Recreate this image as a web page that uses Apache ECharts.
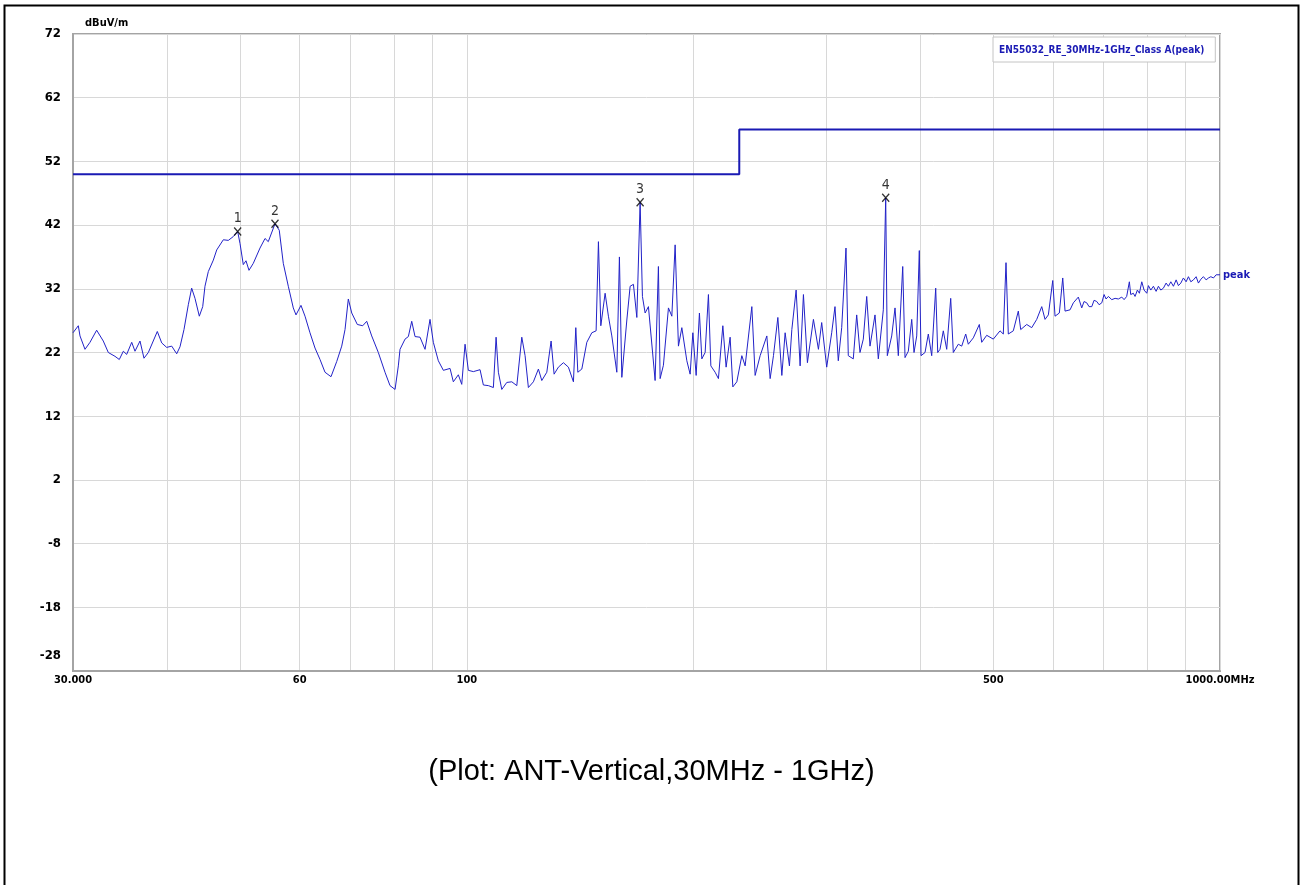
<!DOCTYPE html>
<html>
<head>
<meta charset="utf-8">
<script src="https://cdn.jsdelivr.net/npm/echarts@6/dist/echarts.min.js"></script>
<style>
  html, body { margin: 0; padding: 0; background: #fff; }
  #chart { width: 1303px; height: 885px; }
</style>
</head>
<body>
<div id="chart"></div>
<script>
// ---- Data ----
const freqMHz = [
  30.00, 30.49, 30.65, 31.12, 31.60, 32.25, 32.91, 33.42, 34.11, 34.56, 34.99, 35.35, 35.90, 36.26, 36.82, 37.27, 37.77,
  38.82, 39.35, 39.95, 40.57, 41.19, 41.61, 42.12, 42.68, 43.12, 43.56, 44.14, 44.60, 44.91, 45.37, 46.07, 46.55, 47.50,
  48.23, 48.97, 49.63, 49.99, 50.49, 50.91, 51.38, 52.06, 53.14, 53.96, 54.50, 55.63,
  56.36, 57.06, 57.94, 58.83, 59.32, 60.23, 60.98, 61.91, 62.87, 63.84, 64.82, 66.02, 67.19, 68.22, 68.91, 69.61, 70.34,
  71.55, 72.74, 73.64, 74.77, 76.30, 77.87, 79.07, 80.30, 81.11, 81.53, 82.79, 83.63, 84.50, 85.36, 86.67, 88.01, 89.36,
  90.27, 91.66, 93.08, 95.00, 95.96, 97.44, 98.46, 99.46, 100.47, 102.02, 104.13,
  105.19, 106.81, 108.46, 109.36, 110.13, 111.28, 112.99, 114.74, 116.51, 118.30, 119.50, 120.71, 122.57, 124.46, 125.76,
  127.70, 129.39, 130.58, 132.31, 134.35, 136.42, 138.53, 139.54, 140.40, 142.13, 144.32, 146.54, 148.48, 149.53, 150.63,
  152.62, 154.17, 155.78, 158.18, 159.44, 160.62, 163.10, 164.75, 166.42, 168.16, 169.86, 171.06, 172.48, 174.23, 177.83,
  179.63, 180.57, 182.40, 185.22, 187.15, 189.05, 190.97, 192.96, 195.94, 197.93, 199.57, 201.59, 203.63,
  205.13, 207.21, 209.31, 210.86, 213.64, 215.81, 218.73, 220.94, 223.66, 225.52, 228.29, 231.81, 234.16, 239.01, 241.43,
  245.16, 250.23, 252.77, 255.34, 258.79, 261.97, 264.62, 268.12, 270.10, 273.67, 277.03, 279.84, 283.28, 288.53, 292.98,
  295.92, 300.48, 305.10, 308.19, 311.31, 314.57, 318.73, 320.98, 325.92, 329.33, 332.67, 336.05, 339.57, 343.01, 348.30,
  351.84, 357.27, 359.89, 361.66, 366.55, 370.27, 374.03, 379.10, 381.77,
  385.64, 389.67, 392.42, 395.68, 398.83, 400.91, 405.84, 409.95, 414.23, 416.26, 419.33, 421.89, 424.86, 429.18, 433.67,
  438.99, 442.50, 449.34, 454.03, 459.60, 463.27, 470.41, 479.12, 482.65, 490.08, 500.08, 510.41, 515.58, 519.85, 523.52,
  531.59, 539.79, 543.76, 553.83, 562.37, 571.05, 579.86, 585.74, 591.69, 599.70, 603.93, 611.90, 618.32, 622.68, 632.28,
  638.70, 648.5, 655.3, 659.9, 665.4, 670.1, 675.7, 680.5, 686.1, 691.0, 696.7, 701.6, 705.9, 710.9, 718.3,
  725.6, 733.0, 740.6, 745.9, 751.8, 758.0, 761.1, 767.3, 771.3, 776.8, 781.6, 787.3, 792.9, 799.5, 803.4,
  809.3, 815.8, 822.6, 828.4, 834.5, 841.1, 848.1, 854.1, 860.4, 867.3, 874.5, 880.6, 887.1, 894.2, 901.6,
  908.0, 914.7, 922.0, 929.6, 936.2, 943.1, 950.6, 958.5, 965.3, 972.4, 980.2, 988.3, 1000.0
];
const levelDb = [
  25.1, 26.2, 24.6, 22.5, 23.6, 25.5, 23.8, 22.0, 21.4, 20.9, 22.2, 21.7, 23.6, 22.2, 23.8, 21.1, 22.0,
  25.3, 23.5, 22.8, 23.0, 21.8, 22.9, 25.6, 29.5, 32.1, 30.5, 27.7, 29.2, 32.4, 34.7, 36.5, 38.1, 39.7,
  39.6, 40.2, 41.0, 39.1, 35.8, 36.4, 34.9, 36.0, 38.4, 39.9, 39.4, 42.2,
  41.2, 36.0, 32.4, 29.0, 27.9, 29.4, 27.7, 25.1, 22.7, 20.9, 18.9, 18.2, 20.6, 23.0, 25.6, 30.4, 28.2,
  26.4, 26.2, 26.9, 24.6, 22.0, 18.9, 16.8, 16.2, 19.9, 22.5, 24.1, 24.5, 26.9, 24.5, 24.4, 22.5, 27.2,
  23.6, 20.7, 19.2, 19.5, 17.4, 18.5, 17.0, 23.3, 19.2, 19.0, 19.3,
  16.9, 16.8, 16.5, 24.4, 18.9, 16.2, 17.3, 17.4, 16.8, 24.4, 21.5, 16.5, 17.4, 19.4, 17.6,
  18.9, 23.8, 18.6, 19.7, 20.4, 19.7, 17.4, 25.9, 18.9, 19.4, 23.6, 25.1, 25.4, 39.4, 26.2,
  31.3, 27.7, 24.6, 18.9, 37.0, 18.1, 27.1, 32.4, 32.7, 27.5, 45.6, 30.8, 28.2, 29.2, 17.6,
  35.5, 17.9, 20.0, 29.0, 27.7, 38.9, 23.0, 25.9, 20.7, 18.6, 25.1, 18.4, 28.2,
  21.0, 22.0, 31.1, 19.9, 18.9, 17.9, 26.2, 19.7, 24.4, 16.6, 17.4, 21.5, 19.9, 29.2, 18.4,
  21.5, 24.6, 17.9, 21.5, 27.5, 18.4, 25.1, 19.9, 25.6, 31.8, 19.9, 31.1, 20.4, 27.2, 22.5,
  26.7, 19.7, 25.1, 29.2, 20.7, 25.9, 38.4, 21.5, 21.0, 27.9, 22.0, 24.1, 30.8, 23.0, 27.9,
  21.0, 28.7, 46.3, 21.5, 24.6, 29.0, 21.5, 35.5, 21.2,
  22.2, 27.2, 22.0, 24.6, 38.0, 21.5, 22.0, 24.9, 21.5, 21.5, 32.1, 22.0, 22.5, 25.4, 22.5,
  30.5, 22.0, 23.3, 23.0, 24.9, 23.3, 24.3, 26.4, 23.6, 24.7, 24.1, 25.4, 24.9, 36.1, 24.9,
  25.4, 28.5, 25.6, 26.4, 25.9, 27.2, 29.2, 27.2, 27.9, 33.3, 27.7, 28.2, 33.7, 28.5, 28.7,
  29.8, 30.7, 29.0, 30.0, 29.8, 29.2, 29.2, 30.2, 30.0, 29.5, 29.8, 31.1, 30.4, 30.8, 30.3,
  30.5, 30.4, 30.7, 30.3, 30.8, 33.1, 31.1, 31.3, 30.8, 31.8, 31.3, 33.1, 31.8, 31.3, 32.5,
  31.8, 32.4, 31.6, 32.4, 31.8, 32.1, 32.9, 32.4, 33.1, 32.4, 33.4, 32.5, 32.9, 33.7, 33.1,
  33.9, 33.1, 33.4, 33.9, 32.9, 33.5, 33.9, 33.4, 33.7, 33.9, 33.7, 34.2, 34.2
];

const limitFreq = [30, 230, 230, 1000];
const limitLevel = [50, 50, 57, 57];

const markerLabels = ['1', '2', '3', '4'];
const markerFreq = [49.63, 55.63, 169.86, 359.89];
const markerLevel = [41.0, 42.2, 45.6, 46.3];

const yTicks = [-28, -18, -8, 2, 12, 22, 32, 42, 52, 62, 72];
const xGridTicks = [30, 40, 50, 60, 70, 80, 90, 100, 200, 300, 400, 500, 600, 700, 800, 900, 1000];
const xLabelTicks = [30, 60, 100, 500, 1000];
const xLabelText = ['30.000', '60', '100', '500', '1000.00MHz'];

const limitName = 'EN55032_RE_30MHz-1GHz_Class A(peak)';
const traceName = 'peak';
const yUnit = 'dBuV/m';
const caption = '(Plot: ANT-Vertical,30MHz - 1GHz)';

// ---- Chart ----
const NARROW = "'Liberation Sans Narrow', 'Arial Narrow', 'DejaVu Sans Condensed', sans-serif";
const BLUE = '#1a1ab4';
const TRACE = '#2222c8';

const traceData = freqMHz.map((f, i) => [f, levelDb[i]]);
const limitData = limitFreq.map((f, i) => [f, limitLevel[i]]);
const markerData = markerFreq.map((f, i) => ({ value: [f, markerLevel[i]], name: markerLabels[i] }));

const chart = echarts.init(document.getElementById('chart'), null, { renderer: 'canvas' });
chart.setOption({
  animation: false,
  backgroundColor: '#ffffff',
  grid: { left: 73, right: 83, top: 34, bottom: 214, show: true, borderColor: '#a4a4a4', borderWidth: 2 },
  legend: {
    data: [limitName],
    left: 993, top: 37,
    icon: 'none', itemWidth: 0, itemHeight: 0, itemGap: 0,
    padding: [8, 11, 7, 1],
    borderColor: '#c4c4c4', borderWidth: 1, backgroundColor: '#fff',
    selectedMode: false,
    textStyle: { color: BLUE, fontFamily: NARROW, fontSize: 10, fontWeight: 'bold' }
  },
  xAxis: {
    type: 'log', logBase: 10, min: 30, max: 1000,
    axisLine: { show: true, onZero: false, lineStyle: { color: '#a4a4a4', width: 2 } },
    axisTick: { show: false, customValues: xGridTicks },
    splitLine: { show: true, lineStyle: { color: '#d8d8d8', width: 1 } },
    minorSplitLine: { show: false },
    axisLabel: {
      customValues: xLabelTicks,
      formatter: v => { const i = xLabelTicks.findIndex(t => Math.abs(t - v) < 1e-6 * t); return i >= 0 ? xLabelText[i] : ''; },
      margin: 4, color: '#000', fontFamily: NARROW, fontSize: 11, fontWeight: 'bold'
    }
  },
  yAxis: {
    type: 'value', min: -28, max: 72,
    name: yUnit, nameLocation: 'end', nameGap: 5,
    nameTextStyle: { align: 'left', verticalAlign: 'bottom', padding: [0, 0, 0, 12], color: '#000', fontFamily: NARROW, fontSize: 11, fontWeight: 'bold' },
    axisLine: { show: true, onZero: false, lineStyle: { color: '#a4a4a4', width: 2 } },
    axisTick: { show: false, customValues: yTicks },
    splitLine: { show: true, lineStyle: { color: '#d8d8d8', width: 1 } },
    axisLabel: {
      customValues: yTicks,
      formatter: v => (v === -28 ? '{lo|-28}' : String(v)),
      rich: { lo: { padding: [0, 0, 30, 0], fontFamily: NARROW, fontSize: 13, fontWeight: 'bold', color: '#000' } },
      margin: 12, color: '#000', fontFamily: NARROW, fontSize: 13, fontWeight: 'bold'
    }
  },
  series: [
    {
      name: limitName, type: 'line', data: limitData, symbol: 'none',
      lineStyle: { color: BLUE, width: 2 }, itemStyle: { color: BLUE }, z: 3
    },
    {
      name: traceName, type: 'line', data: traceData, symbol: 'none',
      lineStyle: { color: TRACE, width: 1 }, itemStyle: { color: TRACE }, z: 4,
      endLabel: { show: true, formatter: traceName, color: BLUE, fontFamily: NARROW, fontSize: 11, fontWeight: 'bold', distance: 3 }
    },
    {
      name: 'markers', type: 'scatter', data: markerData,
      symbol: 'path://M0 0L10 12M10 0L0 12', symbolSize: [7, 8],
      itemStyle: { color: 'rgba(0,0,0,0)', borderColor: '#000', borderWidth: 1.4 },
      label: { show: true, position: 'top', distance: 1, formatter: p => p.name, color: '#000', fontFamily: NARROW, fontSize: 14 },
      z: 5
    }
  ],
  graphic: [
    { type: 'rect', shape: { x: 4.5, y: 5.5, width: 1294, height: 920 }, style: { fill: 'none', stroke: '#000', lineWidth: 2 }, silent: true },
    { type: 'text', left: 'center', top: 757, style: { text: caption, font: '29px "Liberation Sans", Arial, sans-serif', fill: '#000' } }
  ]
});
</script>
</body>
</html>
